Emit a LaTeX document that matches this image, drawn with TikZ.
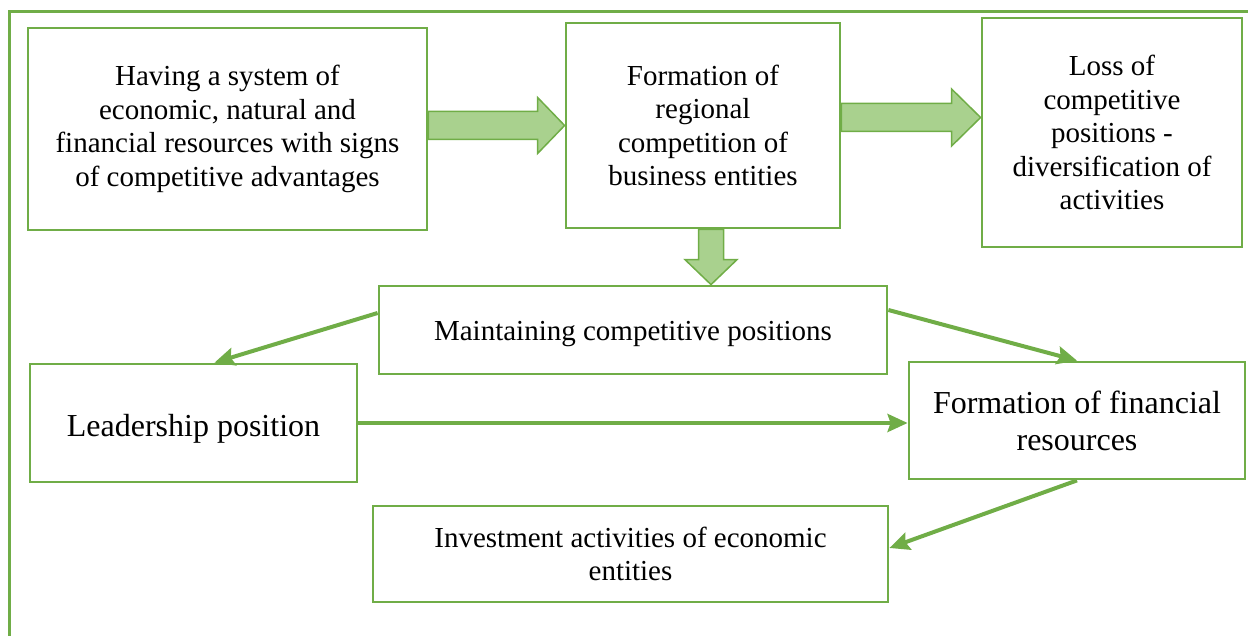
\documentclass[tikz,border=0pt]{standalone}
\usepackage{fontspec}
\setmainfont{Liberation Serif}
\usetikzlibrary{calc,arrows.meta}

\definecolor{boxgreen}{RGB}{112,173,71}
\definecolor{arrowfill}{RGB}{169,209,142}

\tikzset{
  box/.style={draw=boxgreen, line width=2.8pt, align=center, inner sep=0pt,
    font=\fontsize{29}{33.5}\selectfont},
  bigbox/.style={box, font=\fontsize{32}{37}\selectfont},
  link/.style={draw=boxgreen, line width=4pt,
    -{Stealth[length=20pt,width=18pt,inset=3pt]}},
  blockarrow/.style={draw=boxgreen, line width=1.5pt, fill=arrowfill, line join=miter}
}

\begin{document}
\begin{tikzpicture}[x=1pt, y=-1pt]
\useasboundingbox (0,0) rectangle (1248,636);

% outer frame
\draw [boxgreen, line width=3pt] (9,640) -- (9,12) -- (1252,12);

% top row
\node [box, minimum width=399, minimum height=202] (have) at (227.5,129)
  {Having a system of\\economic, natural and\\financial resources with signs\\of competitive advantages};
\node [box, minimum width=274, minimum height=205] (form) at (703,125.5)
  {Formation of\\regional\\competition of\\business entities};
\node [box, minimum width=260, minimum height=229] (loss) at (1112,132.5)
  {Loss of\\competitive\\positions -\\diversification of\\activities};

% middle and bottom
\node [box, minimum width=508, minimum height=88, text height=28pt, text depth=6pt] (keep) at (633,330)
  {Maintaining competitive positions};
\node [bigbox, minimum width=327, minimum height=118, text height=34pt, text depth=7pt] (lead) at (193.5,423)
  {Leadership position};
\node [bigbox, minimum width=336, minimum height=117] (fin) at (1077,420.5)
  {Formation of financial\\resources};
\node [box, minimum width=515, minimum height=96] (inv) at (630.5,554)
  {Investment activities of economic\\entities};

% block arrows
\coordinate (hf) at (have.east |- form.west);
\filldraw [blockarrow] ($(hf)+(0,-14)$) -- ($(form.west)+(-27,-14)$)
  -- ($(form.west)+(-27,-28)$) -- (form.west) -- ($(form.west)+(-27,28)$)
  -- ($(form.west)+(-27,14)$) -- ($(hf)+(0,14)$) -- cycle;

\coordinate (fl) at ([yshift=8pt]form.east);
\coordinate (fl2) at (fl -| loss.west);
\filldraw [blockarrow] ($(fl)+(0,-14)$) -- ($(fl2)+(-29,-14)$)
  -- ($(fl2)+(-29,-28.5)$) -- (fl2) -- ($(fl2)+(-29,28.5)$)
  -- ($(fl2)+(-29,14)$) -- ($(fl)+(0,14)$) -- cycle;

\coordinate (fk) at ([xshift=8pt]form.south);
\coordinate (fk2) at (fk |- keep.north);
\filldraw [blockarrow] ($(fk)+(-12.5,0)$) -- ($(fk2)+(-12.5,-25)$)
  -- ($(fk2)+(-26,-25)$) -- (fk2) -- ($(fk2)+(26,-25)$)
  -- ($(fk2)+(12.5,-25)$) -- ($(fk)+(12.5,0)$) -- cycle;

% thin arrows
\draw [link] ([yshift=17pt]keep.west) -- ([xshift=21pt]lead.north);
\draw [link] ([yshift=20pt]keep.east) -- (fin.north);
\draw [link] (lead.east) -- (lead.east -| fin.west);
\draw [link] (fin.south) -- ([yshift=6pt]inv.east);
\end{tikzpicture}
\end{document}
